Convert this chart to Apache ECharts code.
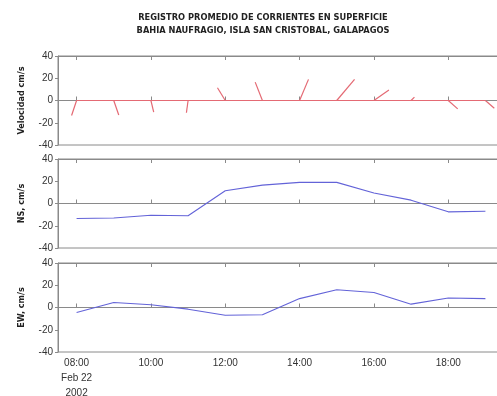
<!DOCTYPE html>
<html>
<head>
<meta charset="utf-8">
<script src="https://cdn.jsdelivr.net/npm/echarts@6/dist/echarts.min.js"></script>
<style>
  html, body { margin: 0; padding: 0; background: #fff; }
  #chart { width: 497px; height: 396px; }
</style>
</head>
<body>
<div id="chart"></div>
<script>
// horas de medicion (22 feb 2002)
var hours = [8, 9, 10, 11, 12, 13, 14, 15, 16, 17, 18, 19];
// componente norte-sur, cm/s
var ns = [-13.5, -13, -10.5, -11, 11.5, 16.5, 19, 19, 9.5, 3, -7.5, -7];
// componente este-oeste, cm/s
var ew = [-4.5, 4.5, 2.5, -1.5, -7, -6.5, 8, 16, 13.5, 3, 8.5, 8];
var yTicks = [-40, -20, 0, 20, 40];
var dateLabel = ['Feb 22', '2002'];

var titleFont = "'Liberation Sans Narrow', 'DejaVu Sans Condensed', 'Liberation Sans', sans-serif";
var tickFont = "'Liberation Sans', sans-serif";

var xMin = hours[0] - 0.5, xMax = hours[hours.length - 1] + 0.5;
var plotW = 446;                       // ancho del area de grafico
var pxPerHour = plotW / (xMax - xMin);
var pxPerUnit = 89 / (yTicks[yTicks.length - 1] - yTicks[0]);
var stickK = pxPerUnit / pxPerHour;    // cm/s -> horas, escala isotropa

var tops = [56, 159, 263];
var names = ['Velocidad cm/s', 'NS, cm/s', 'EW, cm/s'];

function fmtHour(v) {
    return (v < 10 ? '0' : '') + v + ':00';
}

var grids = [], xAxes = [], yAxes = [];
tops.forEach(function (t, i) {
    grids.push({ left: 58, right: 497 - 58 - plotW, top: t, height: 89,
        outerBoundsMode: 'none', containLabel: false,
        show: true, borderColor: '#8a8a8a', borderWidth: 1, backgroundColor: '#fff' });
    // eje inferior
    xAxes.push({
        type: 'value', gridIndex: i, position: 'bottom', min: xMin, max: xMax, splitNumber: 6,
        axisLine: { show: true, lineStyle: { color: '#8a8a8a' } },
        axisTick: { show: true, inside: true, length: 4, lineStyle: { color: '#8a8a8a' } },
        splitLine: { show: false },
        axisLabel: {
            show: i === 2, showMinLabel: false, showMaxLabel: false,
            color: '#333', fontFamily: tickFont, fontSize: 10, lineHeight: 15, margin: 4,
            formatter: function (v) {
                return v === hours[0] ? fmtHour(v) + '\n' + dateLabel.join('\n') : fmtHour(v);
            }
        }
    });
    // eje superior (solo marcas)
    xAxes.push({
        type: 'value', gridIndex: i, position: 'top', min: xMin, max: xMax, splitNumber: 6,
        axisLine: { show: true, lineStyle: { color: '#8a8a8a' } },
        axisTick: { show: true, inside: true, length: 4, lineStyle: { color: '#8a8a8a' } },
        splitLine: { show: false }, axisLabel: { show: false }
    });
    yAxes.push({
        type: 'value', gridIndex: i, min: yTicks[0], max: yTicks[yTicks.length - 1],
        interval: yTicks[1] - yTicks[0],
        name: names[i], nameLocation: 'middle', nameRotate: 90, nameGap: 32,
        nameTextStyle: { fontFamily: titleFont, fontWeight: 'bold', fontSize: 9, color: '#222' },
        axisLine: { show: true, lineStyle: { color: '#8a8a8a' } },
        axisTick: { show: true, inside: false, length: 3, lineStyle: { color: '#8a8a8a' } },
        splitLine: { show: false },
        axisLabel: { color: '#333', fontFamily: tickFont, fontSize: 10, margin: 5 }
    });
});

// palitos (stick plot): de (t,0) a (t + ew*k, ns)
var sticks = hours.map(function (h, i) {
    return { coords: [[h, 0], [h + ew[i] * stickK, ns[i]]] };
});
sticks.push({ coords: [[hours[0], 0], [hours[hours.length - 1], 0]] });

var option = {
    animation: false,
    backgroundColor: '#fff',
    title: {
        text: 'REGISTRO PROMEDIO DE CORRIENTES EN SUPERFICIE\nBAHIA NAUFRAGIO, ISLA SAN CRISTOBAL, GALAPAGOS',
        left: 258, top: 6, textAlign: 'center',
        textStyle: { fontFamily: titleFont, fontWeight: 'bold', fontSize: 9.2, lineHeight: 13, color: '#222' }
    },
    grid: grids,
    xAxis: xAxes,
    yAxis: yAxes,
    series: [
        {
            type: 'lines', coordinateSystem: 'cartesian2d', xAxisIndex: 0, yAxisIndex: 0,
            data: sticks, polyline: false,
            lineStyle: { color: '#e46a74', width: 1.2, opacity: 1 }
        },
        {
            type: 'line', xAxisIndex: 2, yAxisIndex: 1, showSymbol: false,
            data: hours.map(function (h, i) { return [h, ns[i]]; }),
            lineStyle: { color: '#6363d8', width: 1.1 }
        },
        {
            type: 'line', xAxisIndex: 4, yAxisIndex: 2, showSymbol: false,
            data: hours.map(function (h, i) { return [h, ew[i]]; }),
            lineStyle: { color: '#6363d8', width: 1.1 }
        }
    ]
};

var chart = echarts.init(document.getElementById('chart'), null, { renderer: 'canvas' });
chart.setOption(option);
</script>
</body>
</html>
